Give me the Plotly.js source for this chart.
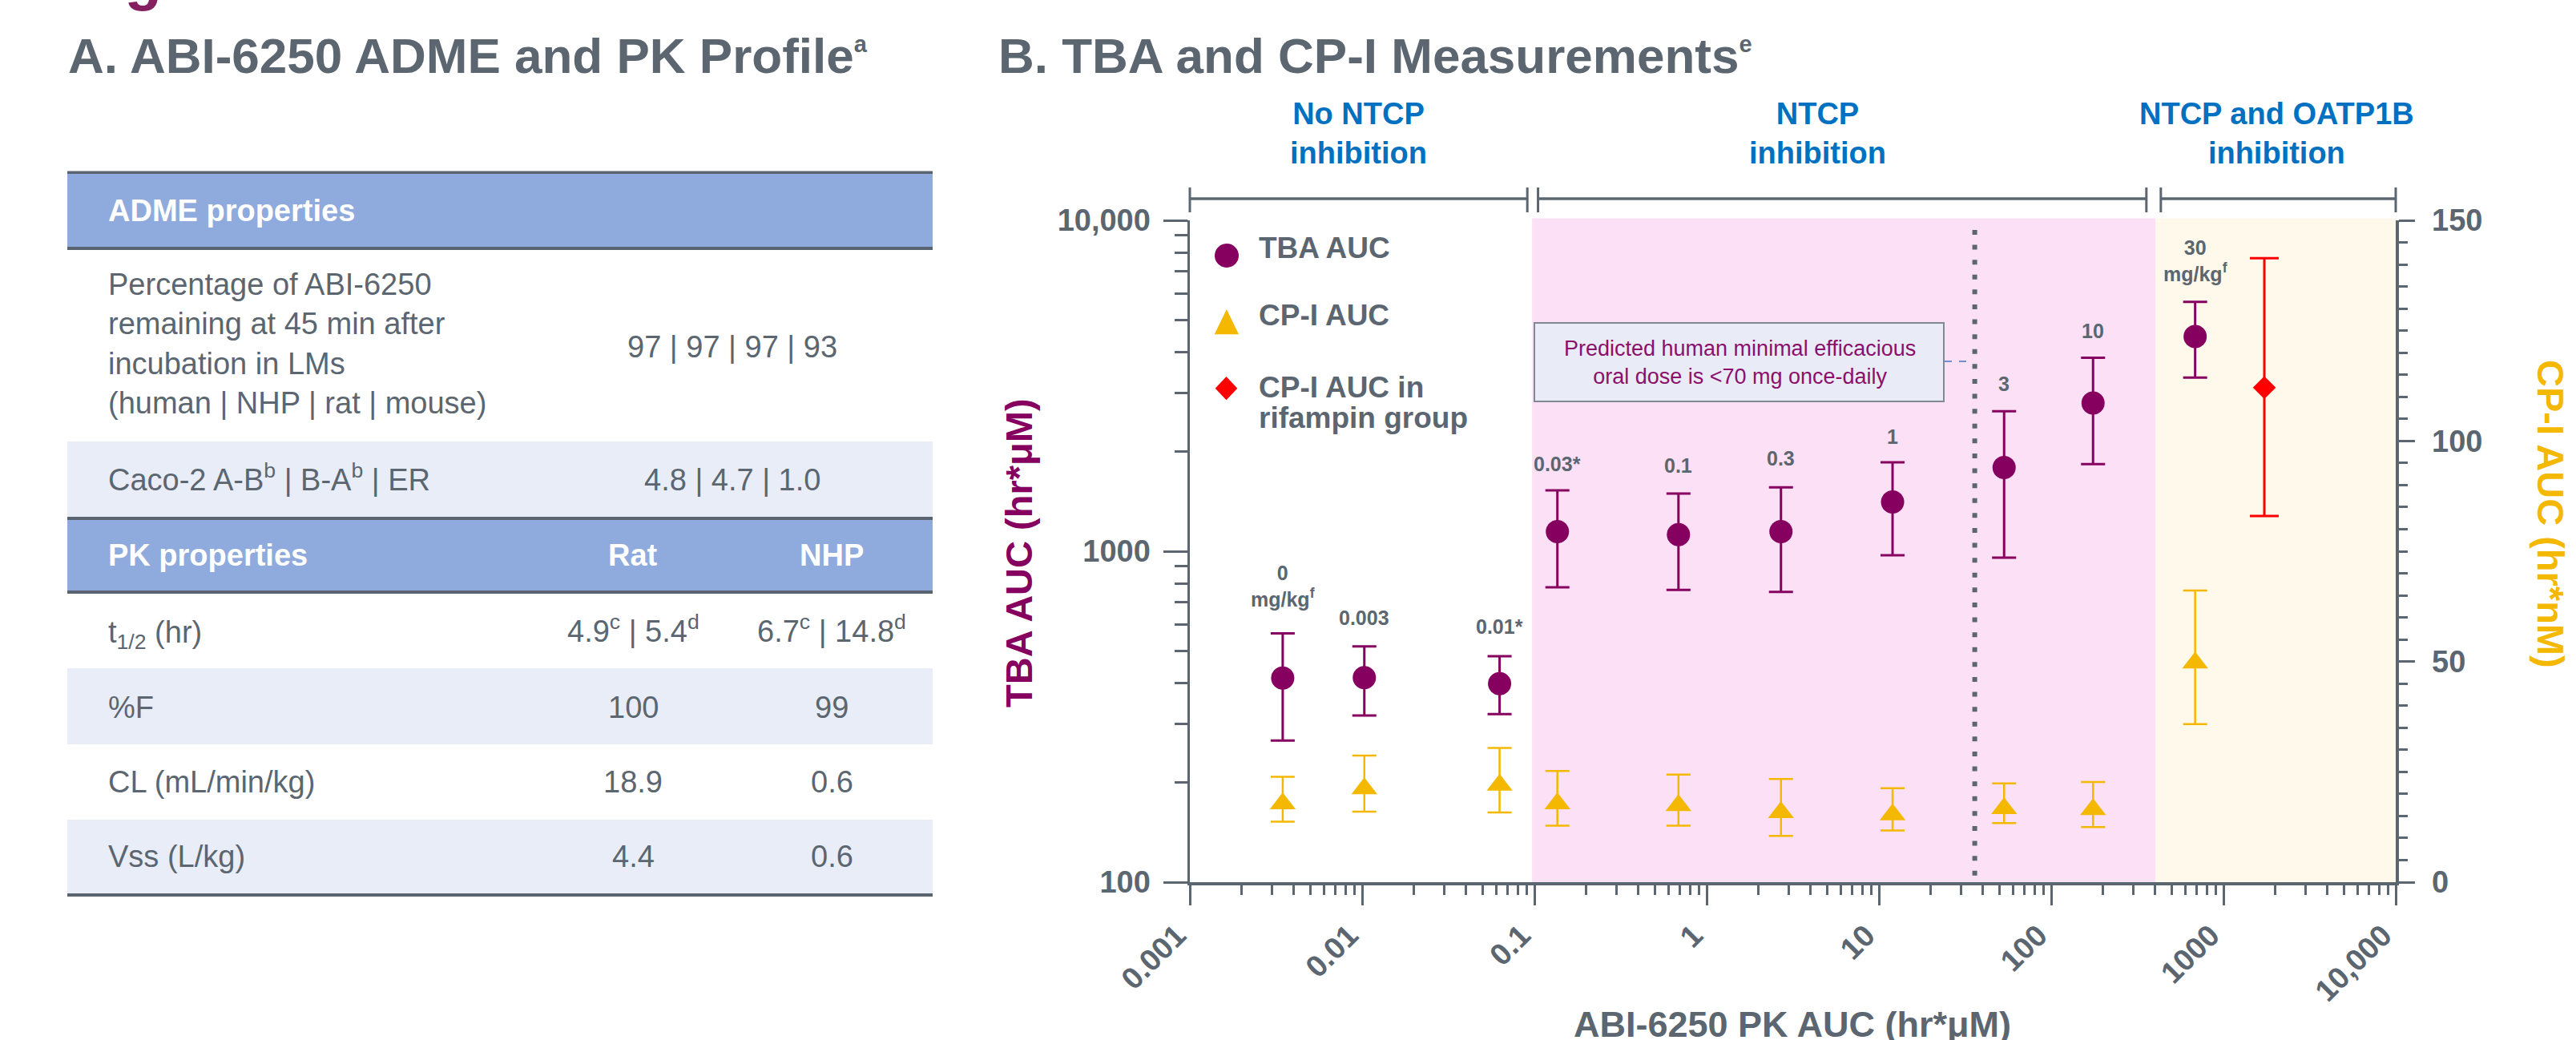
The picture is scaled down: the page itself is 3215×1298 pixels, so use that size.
<!DOCTYPE html>
<html><head><meta charset="utf-8">
<script src="https://cdn.plot.ly/plotly-3.0.1.min.js"></script>
<style>html,body{margin:0;padding:0;background:#fff;overflow:hidden}#chart{width:3215px;height:1298px}</style>
</head><body><div id="chart"></div>
<script>
// ---------------- DATA ----------------
const doseLabels = ['0<br>mg/kg<sup>f</sup>', '0.003', '0.01*', '0.03*', '0.1', '0.3', '1', '3', '10', '30<br>mg/kg<sup>f</sup>'];
const pkAUC   = [0.00346, 0.0103, 0.0628, 0.136, 0.686, 2.70, 12.0, 53.3, 175, 685];
const tbaAUC  = [414, 415, 398, 1146, 1122, 1146, 1409, 1791, 2806, 4457];
const tbaHigh = [565, 516, 482, 1528, 1493, 1560, 1856, 2649, 3842, 5672];
const tbaLow  = [268, 319, 322, 778, 764, 754, 972, 957, 1833, 3350];
const cpiAUC  = [17.8, 21.2, 22.0, 17.8, 17.4, 15.8, 15.3, 16.7, 16.5, 49.7];
const cpiHigh = [23.9, 28.7, 30.4, 25.2, 24.4, 23.4, 21.3, 22.4, 22.7, 66.1];
const cpiLow  = [13.7, 16.0, 15.8, 12.8, 12.8, 10.5, 11.7, 13.4, 12.5, 35.8];
const rifPK = [1727];
const rifCPI = [112.1];
const rifHigh = [141.4];
const rifLow = [83.0];

const xTickVals = [0.001, 0.01, 0.1, 1, 10, 100, 1000, 10000];
const xTickText = ['0.001', '0.01', '0.1', '1', '10', '100', '1000', '10,000'];
const yTickVals = [100, 1000, 10000];
const yTickText = ['100', '1000', '10,000'];
const y2TickVals = [0, 50, 100, 150];

const regionNames = ['No NTCP<br>inhibition', 'NTCP<br>inhibition', 'NTCP and OATP1B<br>inhibition'];
const regionStart = [0.001, 0.105, 433];
const regionEnd   = [0.091, 357, 10000];
const regionLabelPK = [0.0095, 4.4, 2030];
const pinkBand  = [0.097, 403];
const creamBand = [403, 10000];
const efficaciousPK = 36;
const noteText = 'Predicted human minimal efficacious<br>oral dose is <70 mg once-daily';
const legendNames = ['TBA AUC', 'CP-I AUC', 'CP-I AUC in', 'rifampin group'];

const titleA = 'A. ABI-6250 ADME and PK Profile<sup><span style="font-size:29px">a</span></sup>';
const titleB = 'B. TBA and CP-I Measurements<sup><span style="font-size:29px">e</span></sup>';
const xTitle = 'ABI-6250 PK AUC (hr*μM)';
const yTitle = 'TBA AUC (hr*μM)';
const y2Title = 'CP-I AUC (hr*nM)';

const admeHeader = 'ADME properties';
const admeLabels = ['Percentage of ABI-6250<br>remaining at 45 min after<br>incubation in LMs<br>(human | NHP | rat | mouse)',
                    'Caco-2 A-B<sup>b</sup> | B-A<sup>b</sup> | ER'];
const admeValues = ['97 | 97 | 97 | 93', '4.8 | 4.7 | 1.0'];
const pkHeader = ['PK properties', 'Rat', 'NHP'];
const pkLabels = ['t<sub>1/2</sub> (hr)', '%F', 'CL (mL/min/kg)', 'Vss (L/kg)'];
const pkRat = ['4.9<sup>c</sup> | 5.4<sup>d</sup>', '100', '18.9', '4.4'];
const pkNHP = ['6.7<sup>c</sup> | 14.8<sup>d</sup>', '99', '0.6', '0.6'];

// ---------------- STYLE / LAYOUT GEOMETRY ----------------
const FONT = '"Liberation Sans", Arial, Helvetica, sans-serif';
const gray = '#5B6670', purple = '#85005F', gold = '#F5B800', red = '#FF0000';
const blue = '#0070C0', headerBlue = '#8FAADC', rowLight = '#E9EDF7', lineDark = '#5A6470';
const pink = '#FCE0F5', cream = '#FEF9EA';

const W = 3215, H = 1298;
const PL = 1485, PR = 2990, PT = 275, PB = 1101;
const px = x => (x - PL) / (PR - PL);
const py = y => (PB - y) / (PB - PT);
const dom = v => (Math.log10(v) + 3) / 7;

const shapes = [];
const annotations = [];

function rect(x0, y0, x1, y1, color, extra) {
  shapes.push(Object.assign({type: 'rect', xref: 'paper', yref: 'paper', x0: px(x0), x1: px(x1), y0: py(y1), y1: py(y0),
    fillcolor: color, line: {width: 0}, layer: 'above'}, extra || {}));
}
function lineP(x0, y0, x1, y1, color, width, dash) {
  shapes.push({type: 'line', xref: 'paper', yref: 'paper', x0: px(x0), x1: px(x1), y0: py(y0), y1: py(y1),
    line: {color: color, width: width, dash: dash || 'solid'}, layer: 'above'});
}
// text placed by baseline (px); baseline = last line's baseline, or first line's if text has <sub>
function label(text, x, baseline, fs, opt) {
  opt = opt || {};
  const hasSub = /<sub>/.test(text);
  let y, yanchor;
  if (hasSub) { y = baseline - 0.905 * fs - 1; yanchor = 'top'; }
  else { y = baseline + 0.212 * fs + 1; yanchor = 'bottom'; }
  const a = {text: text, showarrow: false, yref: 'paper', y: py(y), yanchor: yanchor,
    xanchor: opt.xanchor || 'center', align: opt.align || (opt.xanchor === 'left' ? 'left' : 'center'),
    font: {family: FONT, size: fs, color: opt.color || gray, weight: opt.bold ? 700 : 400}};
  if (opt.xdata !== undefined) { a.xref = 'x'; a.x = Math.log10(opt.xdata); }
  else { a.xref = 'paper'; a.x = px(x); }
  annotations.push(a);
}

// ---- Figure title fragment & panel titles ----
label('Figure', 86, -1, 76, {xanchor: 'left', bold: true, color: '#84205F'});
label(titleA, 83, 92, 62, {xanchor: 'left', bold: true});
label(titleB, 1244, 92, 62, {xanchor: 'left', bold: true});

// ---- Table (panel A) ----
const TX0 = 84, TX1 = 1164;
const bands = [[217, 308, headerBlue], [312, 551, '#FFFFFF'], [551, 645, rowLight], [649, 737, headerBlue],
               [741, 834, '#FFFFFF'], [834, 929, rowLight], [929, 1023, '#FFFFFF'], [1023, 1115, rowLight]];
bands.forEach(b => rect(TX0, b[0], TX1, b[1], b[2]));
[[213.5, 217], [308, 312], [645, 649], [737, 741], [1115, 1119]].forEach(l => rect(TX0, l[0], TX1, l[1], lineDark));

const LBL_X = 133, COL_ADME = 914, COL_RAT = 790, COL_NHP = 1038, TFS = 38;
label(admeHeader, LBL_X, 277, TFS, {xanchor: 'left', bold: true, color: '#FFFFFF'});
label(admeLabels[0], LBL_X, 517, TFS, {xanchor: 'left'});
label(admeValues[0], COL_ADME, 446.5, TFS);
label(admeLabels[1], LBL_X, 612.5, TFS, {xanchor: 'left'});
label(admeValues[1], COL_ADME, 612.5, TFS);
label(pkHeader[0], LBL_X, 707, TFS, {xanchor: 'left', bold: true, color: '#FFFFFF'});
label(pkHeader[1], COL_RAT, 707, TFS, {bold: true, color: '#FFFFFF'});
label(pkHeader[2], COL_NHP, 707, TFS, {bold: true, color: '#FFFFFF'});
const pkBase = [801.7, 896.7, 990, 1083.3];
pkLabels.forEach((t, i) => {
  label(t, LBL_X, pkBase[i], TFS, {xanchor: 'left'});
  label(pkRat[i], COL_RAT, pkBase[i], TFS);
  label(pkNHP[i], COL_NHP, pkBase[i], TFS);
});

// ---- Panel B background bands & reference line ----
shapes.push({type: 'rect', xref: 'x domain', yref: 'y domain', x0: dom(pinkBand[0]), x1: dom(pinkBand[1]), y0: 0, y1: 1.003,
  fillcolor: pink, line: {width: 0}, layer: 'below'});
shapes.push({type: 'rect', xref: 'x domain', yref: 'y domain', x0: dom(creamBand[0]), x1: dom(creamBand[1]), y0: 0, y1: 1.003,
  fillcolor: cream, line: {width: 0}, layer: 'below'});
shapes.push({type: 'line', xref: 'x domain', yref: 'y domain', x0: dom(efficaciousPK), x1: dom(efficaciousPK), y0: 0.01, y1: 1,
  line: {color: gray, width: 6, dash: '6px,12.6px'}, layer: 'below'});

// ---- brackets above plot ----
regionStart.forEach((s, i) => {
  const x0 = PL + dom(s) * (PR - PL), x1 = PL + dom(regionEnd[i]) * (PR - PL);
  lineP(x0, 248, x1, 248, gray, 3.5);
  lineP(x0, 234, x0, 265, gray, 3);
  lineP(x1, 234, x1, 265, gray, 3);
  label(regionNames[i], 0, 205, 38, {bold: true, color: blue, xdata: regionLabelPK[i]});
});

// ---- note box ----
rect(1915, 403, 2426, 501, '#E9ECF7', {line: {color: '#7F8A96', width: 2}});
label(noteText, 2171, 480.4, 27, {color: '#8C0F6C'});
lineP(2427, 451, 2462, 451, '#4472C4', 1.5, 'dash');

// ---- legend glyphs & text ----
shapes.push({type: 'circle', xref: 'paper', yref: 'paper', x0: px(1516), x1: px(1546), y0: py(334), y1: py(304),
  fillcolor: purple, line: {width: 0}, layer: 'above'});
shapes.push({type: 'path', xref: 'paper', yref: 'paper',
  path: `M${px(1515.7)},${py(417.3)} L${px(1546)},${py(417.3)} L${px(1530.9)},${py(386)} Z`,
  fillcolor: gold, line: {width: 0}, layer: 'above'});
shapes.push({type: 'path', xref: 'paper', yref: 'paper',
  path: `M${px(1516.7)},${py(484.7)} L${px(1530.5)},${py(470)} L${px(1544.3)},${py(484.7)} L${px(1530.5)},${py(499.3)} Z`,
  fillcolor: red, line: {width: 0}, layer: 'above'});
const legBase = [322.7, 407.3, 497, 535];
legendNames.forEach((t, i) => label(t, 1569, legBase[i], 37, {xanchor: 'left', bold: true}));

// ---- dose labels ----
const doseBase = [757.9, 780.4, 791.7, 588.7, 590.7, 581.7, 554.4, 488.2, 422.4, 351.6];
doseLabels.forEach((t, i) => label(t, 0, doseBase[i], 25, {bold: true, xdata: pkAUC[i]}));

// ---- axis titles ----
label(xTitle, 2237, 1295, 45, {bold: true});
annotations.push({text: yTitle, textangle: -90, showarrow: false, xref: 'paper', yref: 'paper', x: px(1271), y: py(690),
  xanchor: 'center', yanchor: 'middle', font: {family: FONT, size: 47, color: purple, weight: 700}});
annotations.push({text: y2Title, textangle: 90, showarrow: false, xref: 'paper', yref: 'paper', x: px(3184), y: py(641),
  xanchor: 'center', yanchor: 'middle', font: {family: FONT, size: 47, color: gold, weight: 700}});

// ---- minor tick positions ----
const minorX = [], minorY = [];
for (let e = -3; e < 4; e++) for (let m = 2; m <= 9; m++) minorX.push(+(m * Math.pow(10, e)).toPrecision(3));
for (let e = 2; e < 4; e++) for (let m = 2; m <= 9; m++) minorY.push(m * Math.pow(10, e));

// ---------------- TRACES ----------------
const traces = [
  {type: 'scatter', mode: 'markers', name: 'TBA AUC', x: pkAUC, y: tbaAUC, cliponaxis: false, hoverinfo: 'x+y',
   marker: {symbol: 'circle', size: 29, color: purple, line: {width: 0}},
   error_y: {type: 'data', symmetric: false, array: tbaHigh.map((h, i) => h - tbaAUC[i]),
             arrayminus: tbaLow.map((l, i) => tbaAUC[i] - l), color: purple, thickness: 3, width: 15}},
  {type: 'scatter', mode: 'markers', name: 'CP-I AUC', x: pkAUC, y: cpiAUC, yaxis: 'y2', cliponaxis: false,
   marker: {symbol: 'triangle-up', size: 28, color: gold, line: {width: 0}},
   error_y: {type: 'data', symmetric: false, array: cpiHigh.map((h, i) => h - cpiAUC[i]),
             arrayminus: cpiLow.map((l, i) => cpiAUC[i] - l), color: gold, thickness: 2.5, width: 15}},
  {type: 'scatter', mode: 'markers', name: 'CP-I AUC in rifampin group', x: rifPK, y: rifCPI, yaxis: 'y2', cliponaxis: false,
   marker: {symbol: 'diamond', size: 22, color: red, line: {width: 0}},
   error_y: {type: 'data', symmetric: false, array: [rifHigh[0] - rifCPI[0]], arrayminus: [rifCPI[0] - rifLow[0]],
             color: red, thickness: 3, width: 18}}
];

const tickFont = {family: FONT, size: 38, color: gray, weight: 700};
const layout = {
  width: W, height: H,
  margin: {l: PL, r: W - PR, t: PT, b: H - PB, pad: 0},
  paper_bgcolor: '#FFFFFF', plot_bgcolor: '#FFFFFF',
  showlegend: false,
  font: {family: FONT, color: gray},
  xaxis: {type: 'log', range: [-3, 4], showline: true, linecolor: gray, linewidth: 4, mirror: false,
    ticks: 'outside', ticklen: 25, tickwidth: 3, tickcolor: gray, tickmode: 'array',
    tickvals: xTickVals, ticktext: xTickText, tickangle: -45, tickfont: tickFont, ticklabelshift: -16,
    minor: {tickmode: 'array', tickvals: minorX, ticks: 'outside', ticklen: 12, tickwidth: 3, tickcolor: gray, showgrid: false},
    showgrid: false, zeroline: false},
  yaxis: {type: 'log', range: [2, 4], showline: true, linecolor: gray, linewidth: 3.5,
    ticks: 'outside', ticklen: 30, tickwidth: 3, tickcolor: gray, tickmode: 'array',
    tickvals: yTickVals, ticktext: yTickText, tickfont: tickFont, ticklabelstandoff: 8,
    minor: {tickmode: 'array', tickvals: minorY, ticks: 'outside', ticklen: 16, tickwidth: 3, tickcolor: gray, showgrid: false},
    showgrid: false, zeroline: false},
  yaxis2: {overlaying: 'y', side: 'right', range: [0, 150], showline: true, linecolor: gray, linewidth: 3.5,
    ticks: 'outside', ticklen: 20, tickwidth: 3, tickcolor: gray, tickmode: 'array',
    tickvals: y2TickVals, tickfont: tickFont, ticklabelstandoff: 14,
    minor: {dtick: 5, ticks: 'outside', ticklen: 11, tickwidth: 3, tickcolor: gray, showgrid: false},
    showgrid: false, zeroline: false},
  shapes: shapes,
  annotations: annotations
};

Plotly.newPlot('chart', traces, layout, {staticPlot: true, displayModeBar: false});
</script>
</body></html>
